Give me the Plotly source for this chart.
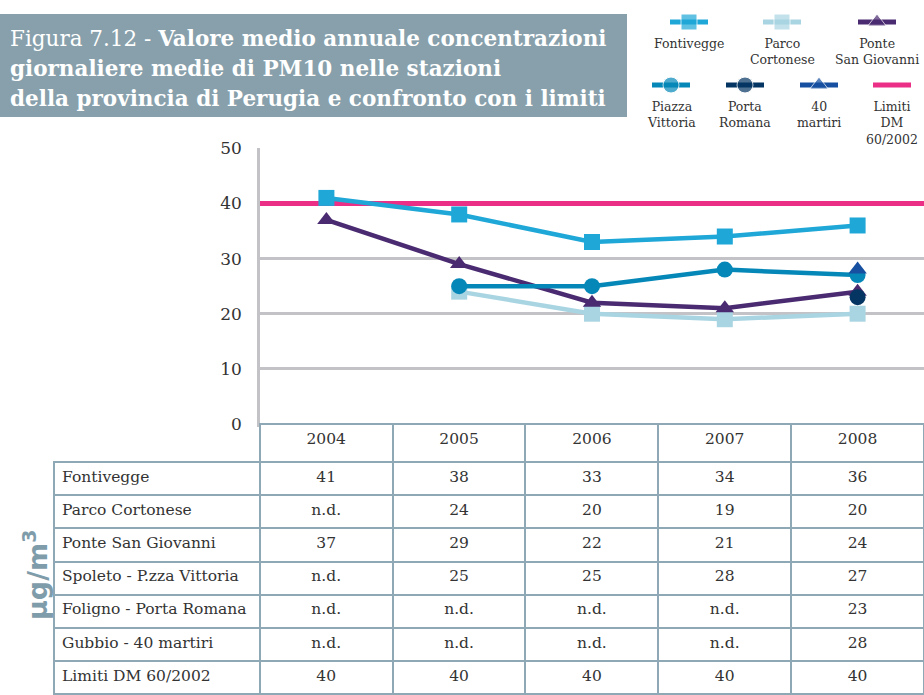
import plotly.graph_objects as go

# ---------------- data ----------------
years = ["2004", "2005", "2006", "2007", "2008"]
fontivegge = [41, 38, 33, 34, 36]
parco_cortonese = [None, 24, 20, 19, 20]
ponte_san_giovanni = [37, 29, 22, 21, 24]
piazza_vittoria = [None, 25, 25, 28, 27]
porta_romana = [None, None, None, None, 23]
quaranta_martiri = [None, None, None, None, 28]
limiti = [40, 40, 40, 40, 40]
y_ticks = [0, 10, 20, 30, 40, 50]

row_labels = ["Fontivegge", "Parco Cortonese", "Ponte San Giovanni",
              "Spoleto - P.zza Vittoria", "Foligno - Porta Romana",
              "Gubbio - 40 martiri", "Limiti DM 60/2002"]
legend_labels = ["Fontivegge", "Parco<br>Cortonese", "Ponte<br>San Giovanni",
                 "Piazza<br>Vittoria", "Porta<br>Romana", "40<br>martiri",
                 "Limiti<br>DM<br>60/2002"]

# ---------------- styles ----------------
W, H = 924, 695
SERIF = "DejaVu Serif"
TXT = "#333333"
GRID = "#c3c3c7"
BORDER = "#8fa8b6"
series = [
    (fontivegge, "#1ea7d7", "square"),
    (parco_cortonese, "#a9d5e2", "square"),
    (ponte_san_giovanni, "#4a2a70", "triangle-up"),
    (piazza_vittoria, "#0588b8", "circle"),
    (porta_romana, "#053663", "circle"),
    (quaranta_martiri, "#1750a0", "triangle-up"),
]
LIMIT_COLOR = "#ec2f86"

plot_left, plot_right, plot_top, plot_bottom = 260, 924, 148, 424
x_idx = list(range(len(years)))
x_range = [-0.5, len(years) - 0.5]

fig = go.Figure()

# limit line, extended to the plot edges like the original
fig.add_trace(go.Scatter(
    x=[x_range[0]] + x_idx + [x_range[1]],
    y=[limiti[0]] + limiti + [limiti[-1]],
    mode="lines", line=dict(color=LIMIT_COLOR, width=5),
    showlegend=False, hoverinfo="skip", xaxis="x", yaxis="y"))

for vals, col, sym in series:
    fig.add_trace(go.Scatter(
        x=x_idx, y=vals, mode="lines+markers",
        line=dict(color=col, width=4.5),
        marker=dict(symbol=sym, size=16, color=col),
        showlegend=False, hoverinfo="skip", cliponaxis=False,
        xaxis="x", yaxis="y"))

# ---------------- table ----------------
def fmt(v):
    return "n.d." if v is None else str(v)

all_series = [fontivegge, parco_cortonese, ponte_san_giovanni, piazza_vittoria,
              porta_romana, quaranta_martiri, limiti]
cols = [row_labels] + [[fmt(s[j]) for s in all_series] for j in range(len(years))]

fig.add_trace(go.Table(
    domain=dict(x=[54 / W, 1], y=[0, (H - plot_bottom) / H]),
    columnwidth=[206] + [133] * len(years),
    header=dict(values=[""] + years, height=38,
                fill_color=["rgba(0,0,0,0)"] + ["white"] * len(years),
                line=dict(color=["rgba(0,0,0,0)"] + [BORDER] * len(years), width=2),
                align="center",
                font=dict(family=SERIF, size=15.5, color=TXT)),
    cells=dict(values=cols, height=33.2,
               fill_color="white",
               line=dict(color=BORDER, width=2),
               align=["left"] + ["center"] * len(years),
               font=dict(family=SERIF, size=15.5, color=TXT)),
))

# ---------------- legend (pixel axes) ----------------
leg_pos = [(689, 22), (782, 22), (877, 22), (671, 85), (745, 85), (819, 85), (892, 85)]
leg_styles = [(c, s) for _, c, s in series] + [(LIMIT_COLOR, None)]
annotations = []
for (cx, cy), (col, sym), lab in zip(leg_pos, leg_styles, legend_labels):
    fig.add_trace(go.Scatter(
        x=[cx - 19, cx, cx + 19], y=[cy, cy, cy],
        mode="lines+markers" if sym else "lines",
        line=dict(color=col, width=5),
        marker=dict(symbol=sym or "circle", size=[0, 16, 0], color=col),
        showlegend=False, hoverinfo="skip", xaxis="x2", yaxis="y2"))
    annotations.append(dict(x=cx, y=cy + 12, xref="x2", yref="y2", text=lab,
                            showarrow=False, xanchor="center", yanchor="top",
                            align="center",
                            font=dict(family=SERIF, size=12.5, color=TXT)))

# title box
shapes = [dict(type="rect", xref="x2", yref="y2", x0=0, x1=627, y0=14, y1=117,
               fillcolor="#87a0ab", line=dict(width=0), layer="below")]
title_lines = ["Figura 7.12 - <b>Valore medio annuale concentrazioni</b>",
               "<b>giornaliere medie di PM10 nelle stazioni</b>",
               "<b>della provincia di Perugia e confronto con i limiti</b>"]
for i, t in enumerate(title_lines):
    annotations.append(dict(x=8, y=38 + 30 * i, xref="x2", yref="y2", text=t,
                            showarrow=False, xanchor="left", yanchor="middle",
                            font=dict(family=SERIF, size=21.5, color="white")))

# y unit label
annotations.append(dict(x=35, y=575, xref="x2", yref="y2",
                        text="<b>µg/m<sup>3</sup></b>", textangle=-90,
                        showarrow=False, xanchor="center", yanchor="middle",
                        font=dict(family="DejaVu Sans", size=27, color="#7f9caa")))

fig.update_layout(
    width=W, height=H,
    margin=dict(l=0, r=0, t=0, b=0, pad=0, autoexpand=False),
    paper_bgcolor="white", plot_bgcolor="rgba(0,0,0,0)",
    xaxis=dict(domain=[plot_left / W, 1], range=x_range,
               showticklabels=False, showgrid=False, zeroline=False,
               showline=True, linecolor=GRID, linewidth=2.5, ticks="",
               fixedrange=True, automargin=False),
    yaxis=dict(domain=[(H - plot_bottom) / H, (H - plot_top) / H],
               range=[0, 50.05], tickvals=y_ticks, ticks="",
               showgrid=True, gridcolor=GRID, gridwidth=2.5,
               zeroline=False, showline=True, linecolor=GRID, linewidth=2.5,
               tickfont=dict(family=SERIF, size=17, color=TXT),
               ticklabelstandoff=12, fixedrange=True, automargin=False),
    xaxis2=dict(domain=[0, 1], range=[0, W], visible=False, fixedrange=True,
                automargin=False),
    yaxis2=dict(domain=[0, 1], range=[H, 0], visible=False, fixedrange=True,
                automargin=False),
    shapes=shapes,
    annotations=annotations,
)

fig.write_html("out.html", config={"displayModeBar": False},
               post_script="document.body.style.margin='0';")
